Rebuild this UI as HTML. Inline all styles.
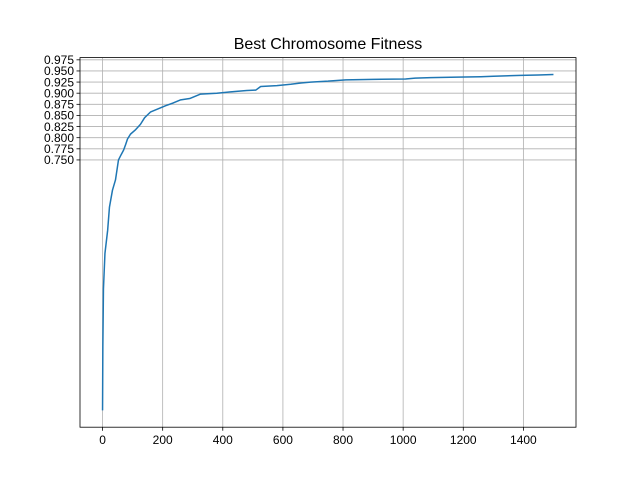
<!DOCTYPE html>
<html><head><meta charset="utf-8"><style>
body{margin:0;background:#fff}
svg{font-family:"Liberation Sans","DejaVu Sans",sans-serif}
</style></head><body>
<svg id="chart" width="640" height="480" viewBox="0 0 640 480"></svg>
<script>
const xs=[0,1,3,8,17,23,33,43,53,62,70,77,83,93,110,126,140,160,185,210,235,260,290,326,380,426,480,510,526,580,626,660,692,750,809,900,1008,1040,1092,1180,1258,1300,1391,1450,1500];
const ys=[0.187,0.33,0.46,0.54,0.592,0.644,0.682,0.705,0.75,0.762,0.772,0.785,0.797,0.808,0.818,0.83,0.845,0.858,0.865,0.872,0.878,0.885,0.888,0.898,0.9,0.903,0.906,0.907,0.915,0.917,0.92,0.923,0.925,0.927,0.93,0.931,0.932,0.934,0.935,0.936,0.937,0.938,0.94,0.941,0.942];
const xTicks=[0,200,400,600,800,1000,1200,1400];
const yTicks=[0.750,0.775,0.800,0.825,0.850,0.875,0.900,0.925,0.950,0.975];
const L=80,R=576,T=57.6,B=427.2;
const x0=-75,x1=1575,y0=0.1493,y1=0.98;
const sx=v=>L+(v-x0)/(x1-x0)*(R-L);
const sy=v=>B-(v-y0)/(y1-y0)*(B-T);
const svg=document.getElementById('chart');
const NS='http://www.w3.org/2000/svg';
function mk(t,a,p){const e=document.createElementNS(NS,t);for(const k in a)e.setAttribute(k,a[k]);(p||svg).appendChild(e);return e;}
const title=mk('text',{x:328,y:49,'text-anchor':'middle','font-size':16,fill:'#000'});
title.textContent='Best Chromosome Fitness';


xTicks.forEach(v=>{const X=sx(v);
 const g=mk('line',{x1:X,x2:X,y1:T,y2:B,stroke:'#b0b0b0','stroke-width':0.8});
 
 
 mk('line',{x1:X,x2:X,y1:B,y2:B+3.5,stroke:'#000','stroke-width':0.8});
 const t=mk('text',{x:X,y:B+17,'text-anchor':'middle','font-size':12,fill:'#000'});
 t.textContent=v;
 
 
});
yTicks.forEach(v=>{const Y=sy(v);
 const g=mk('line',{x1:L,x2:R,y1:Y,y2:Y,stroke:'#b0b0b0','stroke-width':0.8});
 
 
 mk('line',{x1:L-3.5,x2:L,y1:Y,y2:Y,stroke:'#000','stroke-width':0.8});
 const t=mk('text',{x:L-6,y:Y+4.3,'text-anchor':'end','font-size':12,fill:'#000'});
 t.textContent=v.toFixed(3);
 
 
});
const p=mk('polyline',{points:xs.map((v,i)=>sx(v)+','+sy(ys[i])).join(' '),fill:'none',stroke:'#1f77b4','stroke-width':1.5,'stroke-linejoin':'round'});


const f=mk('rect',{x:L,y:T,width:R-L,height:B-T,fill:'none',stroke:'#000','stroke-width':0.8});


</script>
</body></html>
